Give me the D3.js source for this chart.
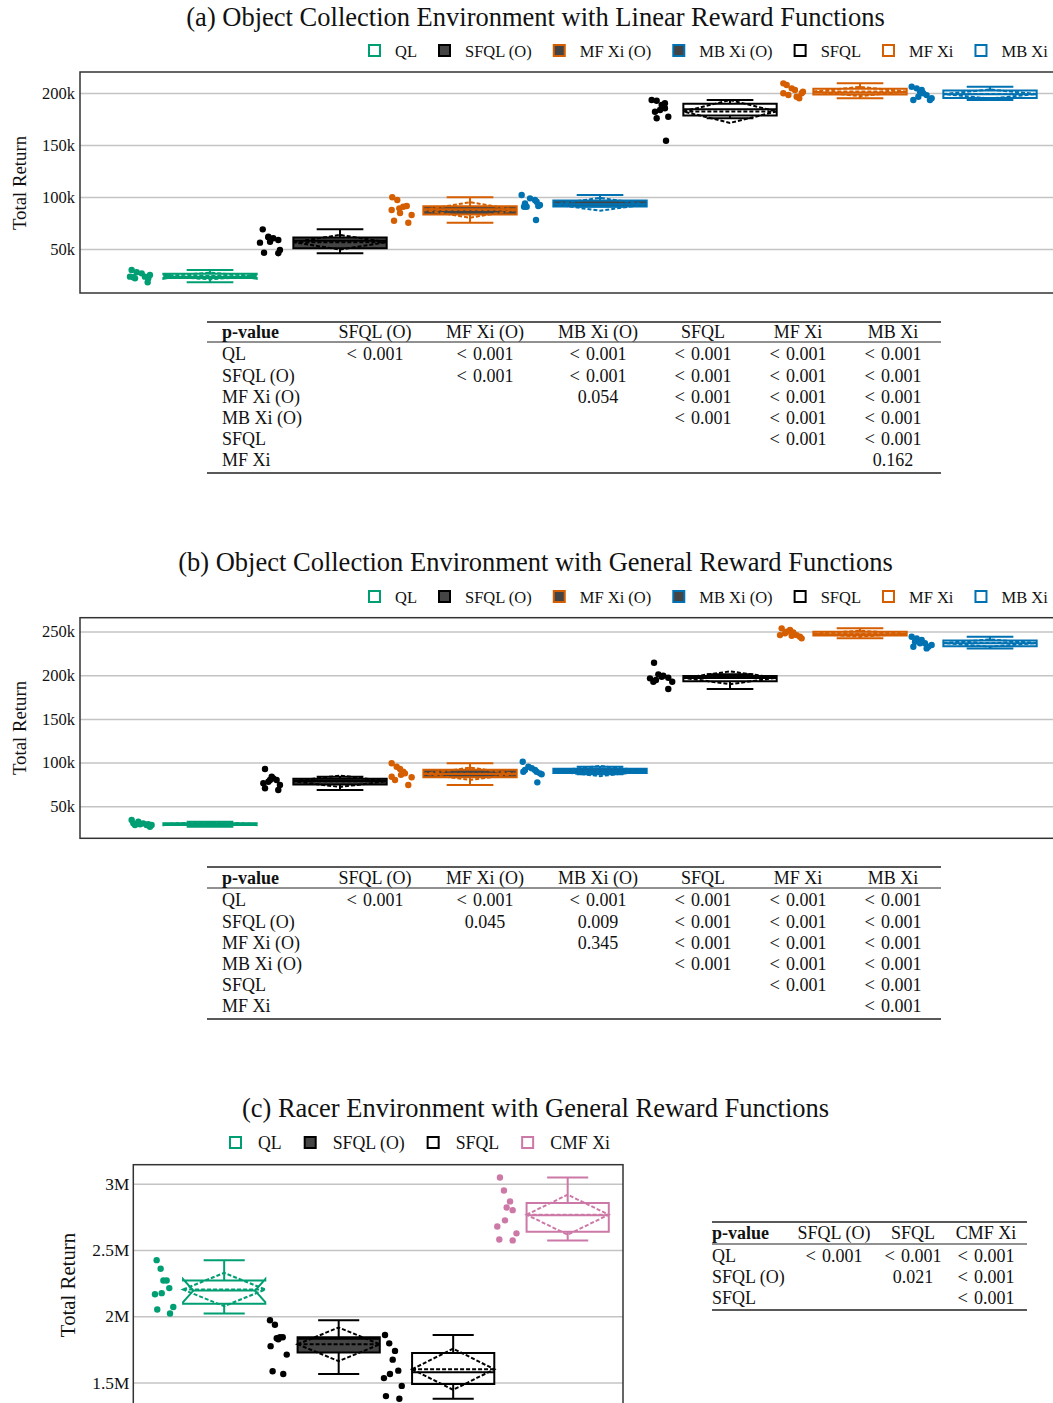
<!DOCTYPE html>
<html><head><meta charset="utf-8">
<script src="https://cdn.jsdelivr.net/npm/d3@7"></script>
<style>
body{margin:0;background:#fff}
svg{display:block}
text{font-family:"Liberation Serif","Times New Roman",Times,serif;fill:#111}
</style>
</head><body>
<svg id="chart" width="1053" height="1403"></svg>
<script>
// ---------------- DATA ----------------
const groupsAB = ["QL","SFQL (O)","MF Xi (O)","MB Xi (O)","SFQL","MF Xi","MB Xi"];
const groupsC = ["QL","SFQL (O)","SFQL","CMF Xi"];

// Panel (a): total return in thousands, with horizontal jitter fractions
const aQL    = [29.8, 22.8, 27.6, 26.6, 23.4, 21.8, 25.0, 18.0, 23.4, 21.8];
const aQLj   = [-0.78,-0.64,-0.36,0.06,0.33,0.61,0.75,0.56,-0.92,-0.5];
const aSFQLO = [68.9, 56.1, 46.4, 61.2, 57.0, 60.3, 58.7, 49.0, 45.9, 61.8];
const aSFQLOj= [-0.69,-0.92,-0.58,-0.22,-0.08,0.19,0.61,0.75,0.61,-0.22];
const aMFXiO = [99.7, 97.1, 87.5, 89.1, 90.7, 91.3, 77.2, 75.3, 82.7, 84.6];
const aMFXiOj= [-0.73,-0.31,-0.78,-0.14,0.19,0.48,-0.58,0.61,0.89,-0.08];
const aMBXiO = [101.9, 93.9, 90.7, 98.7, 97.1, 95.5, 92.3, 91.3, 77.9, 90.7];
const aMBXiOj= [-0.78,-0.5,-0.58,-0.08,0.33,0.47,0.75,0.61,0.42,-0.36];
const aSFQL  = [193.3, 192.6, 188.5, 190.1, 182.0, 183.7, 175.7, 177.2, 185.3, 154.1];
const aSFQLj = [-0.78,-0.36,0.06,0.33,-0.5,-0.08,-0.36,0.61,0.33,0.42];
const aMFXi  = [209.3, 207.7, 204.5, 202.9, 199.7, 198.1, 196.4, 199.7, 201.2, 194.9];
const aMFXij = [-0.64,-0.36,0.06,0.33,-0.64,-0.22,0.47,0.89,1.0,0.69];
const aMBXi  = [206.0, 204.5, 201.2, 199.7, 193.3, 196.4, 198.0, 193.3, 194.9, 202.9];
const aMBXij = [-0.78,-0.36,-0.08,0.19,-0.64,-0.22,0.47,0.75,0.89,0.06];

// Panel (b): thousands
const bQL    = [34.3, 28.6, 32.4, 30.5, 28.6, 26.7, 28.6, 30.5, 29.4, 29.4];
const bQLj   = [-0.78,-0.5,-0.22,0.19,0.47,0.75,0.89,-0.64,-0.08,0.61];
const bSFQLO = [92.7, 80.1, 83.9, 80.1, 74.4, 76.3, 70.6, 68.6, 78.1, 82.0];
const bSFQLOj= [-0.5,-0.08,0.06,0.47,0.75,-0.64,-0.5,0.61,-0.22,0.19];
const bMFXiO = [99.2, 95.3, 92.7, 89.6, 83.9, 80.1, 74.4, 87.7, 83.2, 86.0];
const bMFXiOj= [-0.78,-0.36,-0.08,0.19,-0.78,-0.5,0.61,0.33,0.89,0.0];
const bMBXiO = [101.0, 91.5, 95.3, 93.5, 91.5, 89.6, 87.7, 86.6, 77.4, 89.6];
const bMBXiOj= [-0.69,-0.5,-0.22,0.06,0.33,0.47,0.75,0.89,0.53,-0.64];
const bSFQL  = [214.3, 196.4, 192.5, 201.0, 199.4, 197.1, 192.5, 184.2, 198.3, 194.5];
const bSFQLj = [-0.58,-0.92,-0.64,-0.22,0.19,0.61,0.94,0.61,0.06,-0.42];
const bMFXi  = [253.6, 247.9, 251.7, 249.0, 245.9, 244.0, 242.2, 245.9, 245.1, 249.8];
const bMFXij = [-0.78,-0.5,-0.08,0.19,0.47,0.75,0.89,-0.92,0.06,-0.36];
const bMBXi  = [244.0, 238.3, 240.2, 236.5, 232.6, 234.5, 232.6, 230.7, 236.5, 242.2];
const bMBXij = [-0.78,-0.5,0.06,0.33,0.61,0.89,-0.64,0.47,-0.08,-0.36];

// Panel (c): millions
const cQL    = [2.423, 2.358, 2.269, 2.269, 2.212, 2.166, 2.174, 2.051, 2.069, 2.020];
const cQLj   = [-0.64,-0.26,0,0.31,0.56,-0.8,-0.16,-0.58,0.94,0.63];
const cSFQLO = [1.969, 1.935, 1.833, 1.841, 1.841, 1.774, 1.710, 1.585, 1.564, 1.826];
const cSFQLOj= [-0.75,-0.28,-0.11,0.2,0.46,-0.69,0.84,-0.5,0.51,0.04];
const cSFQL  = [1.858, 1.795, 1.738, 1.672, 1.589, 1.564, 1.533, 1.474, 1.397, 1.377];
const cSFQLj = [-0.7,-0.3,0.25,0.03,0.56,-0.23,-0.8,0.89,-0.61,0.66];
const cCMFXi = [3.046, 2.948, 2.866, 2.820, 2.800, 2.723, 2.677, 2.625, 2.579, 2.572];
const cCMFXij= [-0.66,-0.28,0.3,-0.02,0.55,-0.18,-0.91,0.91,-0.72,0.55];

const ticks_a = [50, 100, 150, 200];
const tickLabels_a = ["50k","100k","150k","200k"];
const ticks_b = [50, 100, 150, 200, 250];
const tickLabels_b = ["50k","100k","150k","200k","250k"];
const ticks_c = [1.5, 2, 2.5, 3];
const tickLabels_c = ["1.5M","2M","2.5M","3M"];

const titles = [
  "(a) Object Collection Environment with Linear Reward Functions",
  "(b) Object Collection Environment with General Reward Functions",
  "(c) Racer Environment with General Reward Functions"
];

// p-value tables
const tabColsAB = ["SFQL (O)","MF Xi (O)","MB Xi (O)","SFQL","MF Xi","MB Xi"];
const tabRowsAB = ["QL","SFQL (O)","MF Xi (O)","MB Xi (O)","SFQL","MF Xi"];
const tabA = [
  ["< 0.001","< 0.001","< 0.001","< 0.001","< 0.001","< 0.001"],
  ["","< 0.001","< 0.001","< 0.001","< 0.001","< 0.001"],
  ["","","0.054","< 0.001","< 0.001","< 0.001"],
  ["","","","< 0.001","< 0.001","< 0.001"],
  ["","","","","< 0.001","< 0.001"],
  ["","","","","","0.162"]
];
const tabB = [
  ["< 0.001","< 0.001","< 0.001","< 0.001","< 0.001","< 0.001"],
  ["","0.045","0.009","< 0.001","< 0.001","< 0.001"],
  ["","","0.345","< 0.001","< 0.001","< 0.001"],
  ["","","","< 0.001","< 0.001","< 0.001"],
  ["","","","","< 0.001","< 0.001"],
  ["","","","","","< 0.001"]
];
const tabColsC = ["SFQL (O)","SFQL","CMF Xi"];
const tabRowsC = ["QL","SFQL (O)","SFQL"];
const tabC = [
  ["< 0.001","< 0.001","< 0.001"],
  ["","0.021","< 0.001"],
  ["","","< 0.001"]
];

// ---------------- STYLE ----------------
const GREEN="#009E73", ORANGE="#D55E00", BLUE="#0072B2", PINK="#CC79A7", BLACK="#000", DARK="#444";
const styleOf = {
  "QL":{color:GREEN,fill:null,notched:true},
  "SFQL (O)":{color:BLACK,fill:DARK},
  "MF Xi (O)":{color:ORANGE,fill:DARK},
  "MB Xi (O)":{color:BLUE,fill:DARK},
  "SFQL":{color:BLACK,fill:null},
  "MF Xi":{color:ORANGE,fill:null},
  "MB Xi":{color:BLUE,fill:null},
  "CMF Xi":{color:PINK,fill:null}
};

const svg = d3.select("#chart");

function boxStats(vals){
  const s = vals.slice().sort(d3.ascending);
  const q1 = d3.quantile(s,0.25), med = d3.quantile(s,0.5), q3 = d3.quantile(s,0.75);
  const iqr = q3-q1;
  const lf = d3.min(s.filter(v=>v>=q1-1.5*iqr));
  const uf = d3.max(s.filter(v=>v<=q3+1.5*iqr));
  const mean = d3.mean(s);
  const sd = Math.sqrt(d3.mean(s,v=>(v-mean)*(v-mean)));
  const n = 1.57*iqr/Math.sqrt(s.length);
  return {q1,med,q3,lf,uf,mean,sd,ln:med-n,un:med+n};
}

function panel(cfg){
  const g = svg.append("g");
  const y = d3.scaleLinear().domain(cfg.domain).range([cfg.bottom, cfg.top]);
  const x = d3.scaleBand().domain(cfg.groups).range(cfg.band).paddingInner(0).paddingOuter(0);
  const step = x.step();
  const clipId = "clip"+cfg.id;
  svg.append("clipPath").attr("id",clipId).append("rect")
    .attr("x",cfg.left).attr("y",cfg.top).attr("width",cfg.right-cfg.left).attr("height",cfg.bottom-cfg.top);

  // axis + grid
  const ax = g.append("g").attr("transform",`translate(${cfg.left},0)`)
    .call(d3.axisLeft(y).tickValues(cfg.ticks).tickFormat((d,i)=>cfg.tickLabels[i])
      .tickSize(-(cfg.right-cfg.left)).tickPadding(cfg.tickPad));
  ax.select(".domain").remove();
  ax.selectAll(".tick line").attr("stroke","#c4c4c4").attr("stroke-width",1.5);
  ax.selectAll(".tick text").style("font-size",cfg.tickFont+"px").style("font-family",'"Liberation Serif",serif').attr("fill","#111");

  // y title
  g.append("text").attr("transform",`translate(${cfg.yTitleX},${cfg.yTitleY}) rotate(-90)`)
    .attr("text-anchor","middle").attr("dy","0.35em").style("font-size",cfg.yTitleFont+"px").text("Total Return");

  const content = g.append("g").attr("clip-path",`url(#${clipId})`);
  cfg.series.forEach((vals,i)=>{
    const name = cfg.groups[i];
    const st = styleOf[name];
    const x0 = x(name);
    const cx = x0 + 0.654*step, hw = 0.359*step;
    const pc = x0 + 0.123*step, jw = 0.092*step;
    const s = boxStats(vals);
    const gg = content.append("g");
    const p0 = cx-hw, p1 = cx+hw, pm0 = cx-0.75*hw, pm1 = cx+0.75*hw;
    let d;
    if(st.notched){
      d = `M${p0},${y(s.ln)}V${y(s.q1)}H${p1}V${y(s.ln)}L${pm1},${y(s.med)}L${p1},${y(s.un)}V${y(s.q3)}H${p0}V${y(s.un)}L${pm0},${y(s.med)}Z`;
    } else {
      d = `M${p0},${y(s.q1)}H${p1}V${y(s.q3)}H${p0}Z`;
    }
    gg.append("path").attr("d",d).attr("fill",st.fill||"none").attr("stroke",st.color).attr("stroke-width",2).attr("stroke-linejoin","miter");
    const medD = st.notched ? `M${pm0},${y(s.med)}H${pm1}` : `M${p0},${y(s.med)}H${p1}`;
    const wD = `M${cx},${y(s.q1)}V${y(s.lf)}M${cx},${y(s.q3)}V${y(s.uf)}M${cx-hw/2},${y(s.lf)}H${cx+hw/2}M${cx-hw/2},${y(s.uf)}H${cx+hw/2}`;
    gg.append("path").attr("d",medD+wD).attr("fill","none").attr("stroke",st.color).attr("stroke-width",2);
    const mD = `M${p0},${y(s.mean)}H${p1}M${p0},${y(s.mean)}L${cx},${y(s.mean+s.sd)}L${p1},${y(s.mean)}L${cx},${y(s.mean-s.sd)}Z`;
    gg.append("path").attr("d",mD).attr("fill","none").attr("stroke",st.color).attr("stroke-width",2).attr("stroke-dasharray","4,2");
    gg.selectAll("circle").data(vals).join("circle")
      .attr("cx",(v,k)=>pc + cfg.jitter[i][k]*jw).attr("cy",v=>y(v)).attr("r",3.2).attr("fill",st.color);
  });
  // frame
  g.append("rect").attr("x",cfg.left).attr("y",cfg.top).attr("width",cfg.right-cfg.left).attr("height",cfg.bottom-cfg.top)
    .attr("fill","none").attr("stroke","#333").attr("stroke-width",1.5);

  // title
  svg.append("text").attr("x",535.5).attr("y",cfg.titleY).attr("text-anchor","middle").style("font-size","26.5px").text(cfg.title);

  // legend
  const lg = svg.append("g");
  let lx = cfg.legendX;
  cfg.groups.forEach(name=>{
    const st = styleOf[name];
    lg.append("rect").attr("x",lx+1).attr("y",cfg.legendY-6).attr("width",11).attr("height",11)
      .attr("fill",st.fill||"#fff").attr("stroke",st.color).attr("stroke-width",2);
    const t = lg.append("text").attr("x",lx+cfg.legendTextOff).attr("y",cfg.legendY).attr("dy","0.35em")
      .style("font-size",cfg.legendFont+"px").text(name);
    lx += cfg.legendTextOff + t.node().getComputedTextLength() + cfg.legendGap;
  });
}

function cellText(sel, c){
  if(c.startsWith("< ")){
    sel.append("tspan").style("font-size","18.5px").text("<");
    sel.append("tspan").attr("dx",6).text(c.slice(2));
  } else sel.text(c);
}

function table(cfg){
  const g = svg.append("g");
  g.append("line").attr("x1",cfg.x0).attr("x2",cfg.x1).attr("y1",cfg.top).attr("y2",cfg.top).attr("stroke","#222").attr("stroke-width",1.6);
  g.append("line").attr("x1",cfg.x0).attr("x2",cfg.x1).attr("y1",cfg.mid).attr("y2",cfg.mid).attr("stroke","#222").attr("stroke-width",1);
  g.append("line").attr("x1",cfg.x0).attr("x2",cfg.x1).attr("y1",cfg.bottom).attr("y2",cfg.bottom).attr("stroke","#222").attr("stroke-width",1.6);
  g.append("text").attr("x",cfg.labelX).attr("y",cfg.headY).attr("dy","0.35em").style("font-size","18px").style("font-weight","bold").text("p-value");
  cfg.cols.forEach((c,j)=>{
    g.append("text").attr("x",cfg.colX[j]).attr("y",cfg.headY).attr("dy","0.35em").attr("text-anchor","middle").style("font-size","18px").text(c);
  });
  cfg.rows.forEach((r,i)=>{
    const yy = cfg.row0 + i*cfg.rowStep;
    g.append("text").attr("x",cfg.labelX).attr("y",yy).attr("dy","0.35em").style("font-size","18px").text(r);
    cfg.cells[i].forEach((c,j)=>{
      if(!c) return;
      const t = g.append("text").attr("x",cfg.colX[j]).attr("y",yy).attr("dy","0.35em").attr("text-anchor","middle").style("font-size","18px");
      cellText(t, c);
    });
  });
}

// ---------------- PANELS ----------------
panel({id:"a", groups:groupsAB, series:[aQL,aSFQLO,aMFXiO,aMBXiO,aSFQL,aMFXi,aMBXi],
  jitter:[aQLj,aSFQLOj,aMFXiOj,aMBXiOj,aSFQLj,aMFXij,aMBXij],
  top:72, bottom:293, left:80, right:1075, domain:[7.7,220.2], band:[125,1035],
  ticks:ticks_a, tickLabels:tickLabels_a, tickPad:5, tickFont:16.5,
  yTitleX:19, yTitleY:183, yTitleFont:18.8,
  title:titles[0], titleY:26, legendX:368, legendY:51, legendTextOff:27, legendGap:21, legendFont:16.5});
table({x0:207,x1:941,top:322,mid:342,bottom:473,headY:332,row0:354,rowStep:21.2,labelX:222,
  colX:[375,485,598,703,798,893], cols:tabColsAB, rows:tabRowsAB, cells:tabA});

panel({id:"b", groups:groupsAB, series:[bQL,bSFQLO,bMFXiO,bMBXiO,bSFQL,bMFXi,bMBXi],
  jitter:[bQLj,bSFQLOj,bMFXiOj,bMBXiOj,bSFQLj,bMFXij,bMBXij],
  top:617.7, bottom:838.3, left:80, right:1075, domain:[13.4,265.8], band:[125,1035],
  ticks:ticks_b, tickLabels:tickLabels_b, tickPad:5, tickFont:16.5,
  yTitleX:19, yTitleY:728, yTitleFont:18.8,
  title:titles[1], titleY:571, legendX:368, legendY:597, legendTextOff:27, legendGap:21, legendFont:16.5});
table({x0:207,x1:941,top:867,mid:888,bottom:1019,headY:878,row0:900,rowStep:21.2,labelX:222,
  colX:[375,485,598,703,798,893], cols:tabColsAB, rows:tabRowsAB, cells:tabB});

panel({id:"c", groups:groupsC, series:[cQL,cSFQLO,cSFQL,cCMFXi],
  jitter:[cQLj,cSFQLOj,cSFQLj,cCMFXij],
  top:1164.7, bottom:1425, left:133.3, right:623, domain:[1.179,3.143], band:[149.3,607.3],
  ticks:ticks_c, tickLabels:tickLabels_c, tickPad:4, tickFont:17.3,
  yTitleX:68, yTitleY:1285, yTitleFont:20.8,
  title:titles[2], titleY:1117, legendX:229, legendY:1143, legendTextOff:29, legendGap:22, legendFont:17.8});
table({x0:712,x1:1027,top:1222,mid:1244,bottom:1310,headY:1233,row0:1256,rowStep:21,labelX:712,
  colX:[834,913,986], cols:tabColsC, rows:tabRowsC, cells:tabC});
</script>
</body></html>
